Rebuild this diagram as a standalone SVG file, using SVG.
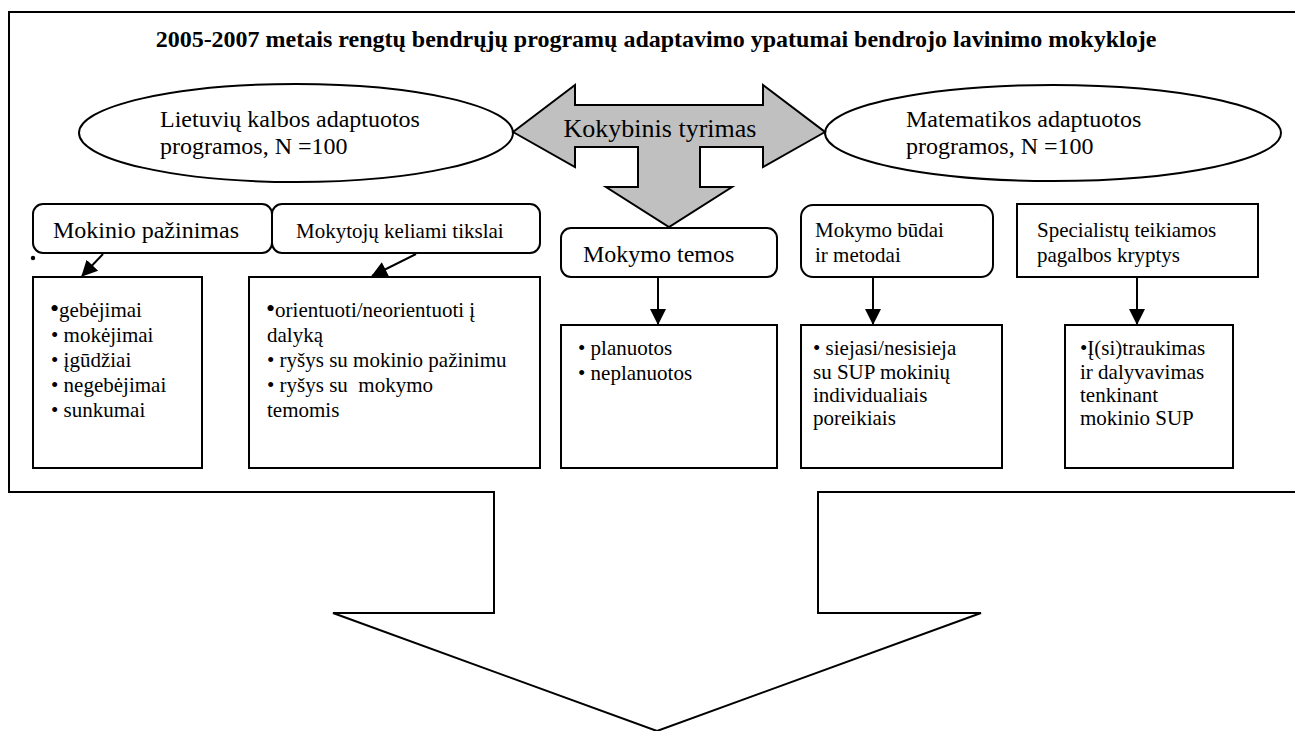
<svg xmlns="http://www.w3.org/2000/svg" width="1295" height="731" viewBox="0 0 1295 731">
<style>
text{font-family:"Liberation Serif","Times New Roman",serif;fill:#000}
.title{font-size:24px;font-weight:bold}
.big{font-size:24px}
.lbl{font-size:21px}
.body{font-size:21px;white-space:pre}
.box{fill:#fff;stroke:#000;stroke-width:2}
.ell{fill:#fff;stroke:#000;stroke-width:2}
.con{fill:none;stroke:#000;stroke-width:2}
</style>
<defs>
<marker id="ahb" viewBox="0 0 16 18" markerWidth="16" markerHeight="18" refX="15" refY="9" orient="auto" markerUnits="userSpaceOnUse">
<path d="M0,1 L16,9 L0,17 z" fill="#000"/>
</marker>
</defs>
<rect width="1295" height="731" fill="#fff"/>
<g id="frame">
<path d="M1297,12 H9 V492 H494 V613 H333 L657,731 L981,613 H818 V492 H1297" fill="none" stroke="#000" stroke-width="2"/>
</g>
<g id="title">
<text class="title" x="656" y="47" text-anchor="middle">2005-2007 metais rengtų bendrųjų programų adaptavimo ypatumai bendrojo lavinimo mokykloje</text>
</g>
<g id="ellipse-lt">
<ellipse class="ell" cx="296" cy="133" rx="217" ry="49"/>
<text class="big" x="160" y="127">Lietuvių kalbos adaptuotos</text>
<text class="big" x="160" y="154">programos, N =100</text>
</g>
<g id="ellipse-mat">
<ellipse class="ell" cx="1053" cy="133" rx="228" ry="48"/>
<text class="big" x="906" y="127">Matematikos adaptuotos</text>
<text class="big" x="906" y="154">programos, N =100</text>
</g>
<g id="kokybinis">
<path d="M513,132 L575,85 V105 H763 V85 L825,132 L763,167 V147 H700 V187 H732 L669,227 L606,187 H638 V147 H575 V167 Z" fill="#c0c0c0" stroke="#000" stroke-width="2" stroke-linejoin="miter"/>
<text x="660" y="137" text-anchor="middle" style="font-size:26px">Kokybinis tyrimas</text>
</g>
<g id="n-mokinio">
<rect class="box" x="33" y="204" width="239" height="49" rx="10"/>
<text class="big" x="53" y="238">Mokinio pažinimas</text>
</g>
<g id="n-mokytoju">
<rect class="box" x="272" y="204" width="268" height="49" rx="10"/>
<text class="lbl" x="296" y="238">Mokytojų keliami tikslai</text>
</g>
<circle cx="33" cy="258" r="2.2" fill="#000"/>
<g id="n-temos">
<rect class="box" x="561" y="228" width="216" height="49" rx="10"/>
<text class="big" x="583" y="262">Mokymo temos</text>
</g>
<g id="n-budai">
<rect class="box" x="801" y="205" width="192" height="72" rx="12"/>
<text class="lbl" x="815" y="237">Mokymo būdai</text>
<text class="lbl" x="815" y="262">ir metodai</text>
</g>
<g id="n-special">
<rect class="box" x="1017" y="204" width="241" height="73"/>
<text class="lbl" x="1037" y="237">Specialistų teikiamos</text>
<text class="lbl" x="1037" y="262">pagalbos kryptys</text>
</g>
<g id="b-mokinio">
<rect class="box" x="33" y="277" width="169" height="191"/>
<text class="body" x="50" y="317"><tspan style="font-size:26px">•</tspan>gebėjimai</text>
<text class="body" x="51" y="342">• mokėjimai</text>
<text class="body" x="51" y="367">• įgūdžiai</text>
<text class="body" x="51" y="392">• negebėjimai</text>
<text class="body" x="51" y="417">• sunkumai</text>
</g>
<g id="b-mokytoju">
<rect class="box" x="249" y="277" width="291" height="191"/>
<text class="body" x="266" y="317"><tspan style="font-size:26px">•</tspan>orientuoti/neorientuoti į</text>
<text class="body" x="267" y="342">dalyką</text>
<text class="body" x="267" y="367">• ryšys su mokinio pažinimu</text>
<text class="body" x="267" y="392">• ryšys su  mokymo</text>
<text class="body" x="267" y="417">temomis</text>
</g>
<g id="b-temos">
<rect class="box" x="561" y="325" width="216" height="143"/>
<text class="body" x="578" y="355">• planuotos</text>
<text class="body" x="578" y="380">• neplanuotos</text>
</g>
<g id="b-budai">
<rect class="box" x="801" y="325" width="201" height="143"/>
<text class="body" x="813" y="355">• siejasi/nesisieja</text>
<text class="body" x="813" y="379">su SUP mokinių</text>
<text class="body" x="813" y="402">individualiais</text>
<text class="body" x="813" y="425">poreikiais</text>
</g>
<g id="b-special">
<rect class="box" x="1065" y="325" width="168" height="143"/>
<text class="body" x="1080" y="355">•Į(si)traukimas</text>
<text class="body" x="1080" y="379">ir dalyvavimas</text>
<text class="body" x="1080" y="402">tenkinant</text>
<text class="body" x="1080" y="425">mokinio SUP</text>
</g>
<g id="connectors">
<line class="con" x1="103" y1="254" x2="82" y2="276" marker-end="url(#ahb)"/>
<line class="con" x1="416" y1="254" x2="372" y2="276" marker-end="url(#ahb)"/>
<line class="con" x1="658" y1="277" x2="658" y2="324" marker-end="url(#ahb)"/>
<line class="con" x1="873" y1="277" x2="873" y2="324" marker-end="url(#ahb)"/>
<line class="con" x1="1137" y1="277" x2="1137" y2="324" marker-end="url(#ahb)"/>
</g>
</svg>
